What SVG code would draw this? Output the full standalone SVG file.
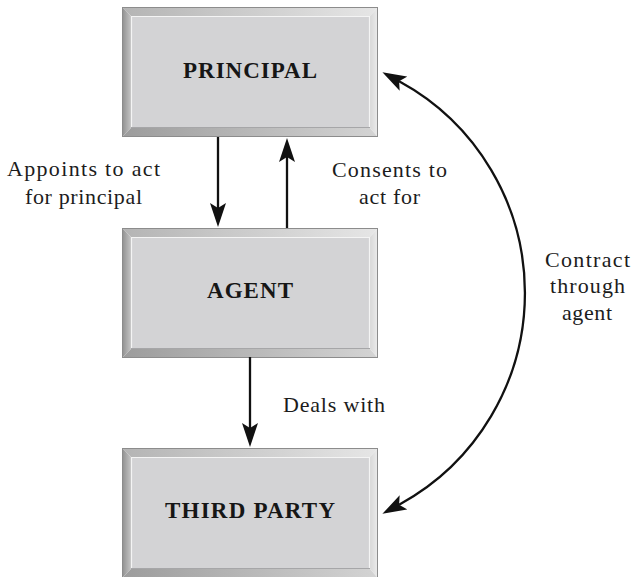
<svg xmlns="http://www.w3.org/2000/svg" xmlns:xlink="http://www.w3.org/1999/xlink" width="632" height="577" viewBox="0 0 632 577">
  <style>
    .box-face { fill: #d3d3d5; }
    .box-hi { fill: none; stroke: #f4f4f4; stroke-width: 1.2; }
    .box-lo { fill: none; stroke: #a6a6a8; stroke-width: 1; }
    .box-title { font-family: "Liberation Serif", "Times New Roman", serif; font-weight: bold; font-size: 23px; fill: #161616; text-anchor: middle; }
    .label { font-family: "Liberation Serif", "Times New Roman", serif; font-size: 22px; fill: #1c1c1c; }
    .link { fill: none; stroke: #111; stroke-width: 2.3; marker-end: url(#head); }
  </style>
  <defs>
    <linearGradient id="gTop" x1="0" y1="0" x2="1" y2="0">
      <stop offset="0" stop-color="#b4b4b4"/>
      <stop offset="1" stop-color="#e6e6e6"/>
    </linearGradient>
    <linearGradient id="gLeft" x1="0" y1="0" x2="1" y2="0">
      <stop offset="0" stop-color="#8e8e8e"/>
      <stop offset="1" stop-color="#c4c4c4"/>
    </linearGradient>
    <linearGradient id="gBottom" x1="0" y1="0" x2="1" y2="0">
      <stop offset="0" stop-color="#9c9c9c"/>
      <stop offset="1" stop-color="#d4d4d4"/>
    </linearGradient>
    <linearGradient id="gRight" x1="0" y1="0" x2="1" y2="0">
      <stop offset="0" stop-color="#d8d8d8"/>
      <stop offset="1" stop-color="#ececec"/>
    </linearGradient>
    <!-- bevelled frame, 256 x 130, 9px rim -->
    <g id="frame">
      <polygon points="0,0 256,0 248,9 9,9" fill="url(#gTop)"/>
      <polygon points="0,0 9,9 9,121 0,130" fill="url(#gLeft)"/>
      <polygon points="0,130 9,121 248,121 256,130" fill="url(#gBottom)"/>
      <polygon points="256,0 256,130 248,121 248,9" fill="url(#gRight)"/>
      <rect x="0.5" y="0.5" width="255" height="129" fill="none" stroke="#8c8c8c" stroke-width="1"/>
    </g>
    <marker id="head" viewBox="0 0 24 16" refX="5" refY="8" markerWidth="24" markerHeight="16" markerUnits="userSpaceOnUse" orient="auto-start-reverse">
      <path d="M0,0 L24,8 L0,16 L5,8 z" fill="#111"/>
    </marker>
  </defs>

  <rect width="632" height="577" fill="#ffffff"/>

  <g id="principal">
    <use xlink:href="#frame" href="#frame" x="122" y="7"/>
    <rect class="box-face" x="131" y="16" width="239" height="112"/>
    <polyline class="box-hi" points="131.5,128 131.5,16.5 369.5,16.5 369.5,128"/>
    <line class="box-lo" x1="131" y1="127.5" x2="370" y2="127.5"/>
    <text class="box-title" x="250" y="78" textLength="134" lengthAdjust="spacing">PRINCIPAL</text>
  </g>

  <g id="agent">
    <use xlink:href="#frame" href="#frame" x="122" y="228"/>
    <rect class="box-face" x="131" y="237" width="239" height="112"/>
    <polyline class="box-hi" points="131.5,349 131.5,237.5 369.5,237.5 369.5,349"/>
    <line class="box-lo" x1="131" y1="348.5" x2="370" y2="348.5"/>
    <text class="box-title" x="250" y="298" textLength="86" lengthAdjust="spacing">AGENT</text>
  </g>

  <g id="third-party">
    <use xlink:href="#frame" href="#frame" x="122" y="448"/>
    <rect class="box-face" x="131" y="457" width="239" height="112"/>
    <polyline class="box-hi" points="131.5,569 131.5,457.5 369.5,457.5 369.5,569"/>
    <line class="box-lo" x1="131" y1="568.5" x2="370" y2="568.5"/>
    <text class="box-title" x="250" y="518" textLength="170" lengthAdjust="spacing">THIRD PARTY</text>
  </g>

  <g id="connectors">
    <path class="link" d="M218 137 L218 208"/>
    <path class="link" d="M287 228 L287 157"/>
    <path class="link" d="M250 357 L250 428"/>
    <path class="link" style="marker-start: url(#head)" d="M399.1 81.3 A241 241 0 0 1 399.1 504.7"/>
  </g>

  <g id="labels">
    <text class="label" x="7" y="176" textLength="153" lengthAdjust="spacing">Appoints to act</text>
    <text class="label" x="25" y="204" textLength="117" lengthAdjust="spacing">for principal</text>
    <text class="label" x="332" y="177" textLength="115" lengthAdjust="spacing">Consents to</text>
    <text class="label" x="359" y="204" textLength="61" lengthAdjust="spacing">act for</text>
    <text class="label" x="283" y="412" textLength="102" lengthAdjust="spacing">Deals with</text>
    <text class="label" x="545" y="267" textLength="85" lengthAdjust="spacing">Contract</text>
    <text class="label" x="550" y="293" textLength="75" lengthAdjust="spacing">through</text>
    <text class="label" x="562" y="320" textLength="50" lengthAdjust="spacing">agent</text>
  </g>
</svg>
